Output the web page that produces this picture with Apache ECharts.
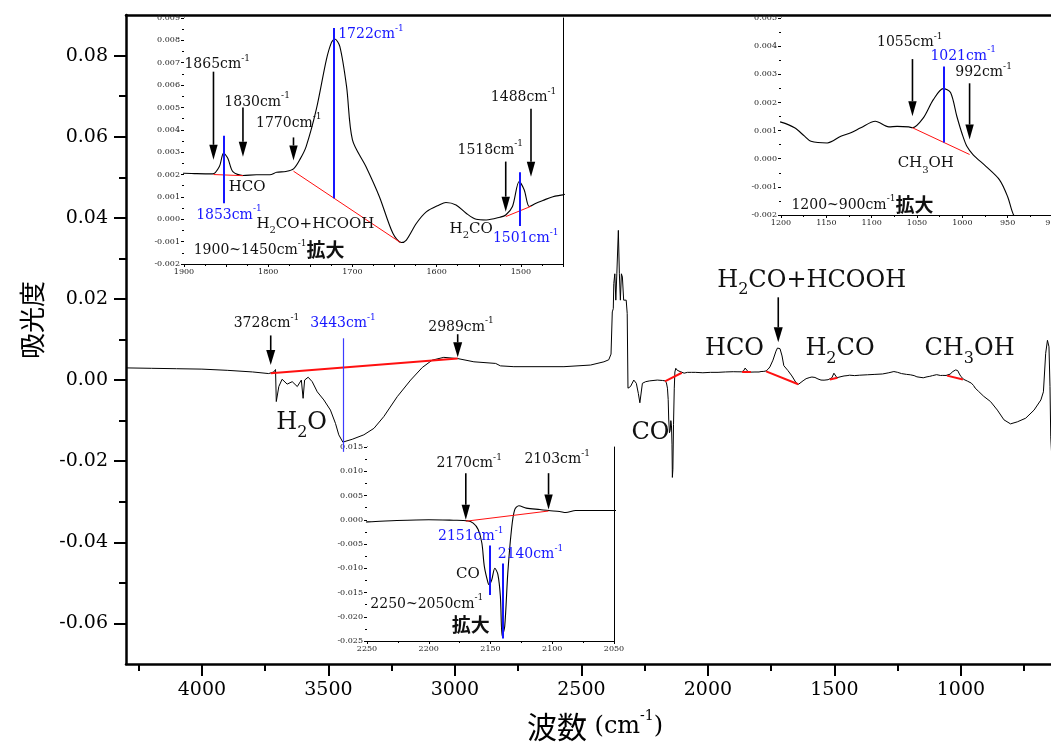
<!DOCTYPE html>
<html>
<head>
<meta charset="utf-8">
<script src="https://cdn.jsdelivr.net/npm/echarts@6/dist/echarts.min.js"></script>
<style>
  html, body { margin: 0; padding: 0; background: #fff; }
  #chart { width: 1051px; height: 745px; }
</style>
</head>
<body>
<div id="chart"></div>
<script>
// ---------------- spectrum (wavenumber cm-1, absorbance) ----------------
const spectrumOH = [
  [4300, 0.0030], [4200, 0.0029], [4100, 0.0028], [4000, 0.0027], [3900, 0.0024],
  [3800, 0.0020], [3736, 0.0016], [3716, 0.0020], [3709, 0.0026], [3706, -0.0053],
  [3696, -0.0016], [3683, 0.0002], [3663, -0.0010], [3643, -0.0004], [3623, -0.0016],
  [3607, 0.0000], [3600, -0.0045], [3594, 0.0000], [3580, 0.0007], [3564, -0.0004],
  [3544, -0.0029], [3518, -0.0049], [3492, -0.0074], [3472, -0.0107], [3459, -0.0135],
  [3443, -0.0153], [3406, -0.0146], [3360, -0.0135], [3320, -0.0119], [3281, -0.0090],
  [3228, -0.0041], [3175, 0.0000], [3129, 0.0031], [3090, 0.0049], [3044, 0.0056],
  [2989, 0.0053], [2925, 0.0045], [2839, 0.0041], [2820, 0.0035], [2767, 0.0033],
  [2569, 0.0033], [2464, 0.0037], [2411, 0.0045]
];
const spectrumCO2 = [
  [2392, 0.0050], [2383, 0.0064], [2378, 0.0168], [2374, 0.0176], [2372, 0.0238],
  [2368, 0.0262], [2364, 0.0197], [2360, 0.0262], [2354, 0.0369], [2350, 0.0262],
  [2346, 0.0197], [2342, 0.0262], [2338, 0.0254], [2333, 0.0197], [2323, 0.0197],
  [2319, 0.0164], [2316, -0.0020], [2306, -0.0016], [2293, 0.0000], [2283, -0.0008],
  [2275, -0.0033], [2269, -0.0056], [2259, -0.0008], [2246, -0.0004]
];
const spectrumCO = [
  [2230, -0.0002], [2200, 0.0000], [2180, -0.0001], [2169, -0.0002], [2164, -0.0007],
  [2160, -0.0020], [2157, -0.0048], [2155, -0.0096], [2152, -0.0130], [2151, -0.0134],
  [2149, -0.0124], [2146.5, -0.0100], [2144, -0.0113], [2142, -0.0158], [2140.5, -0.0240],
  [2138.5, -0.0220], [2136, -0.0110], [2133, -0.0020], [2130.5, 0.0020], [2127, 0.0029],
  [2121, 0.0024], [2110, 0.0021], [2103, 0.0019], [2094, 0.0017], [2089, 0.0015],
  [2081, 0.0019], [2065, 0.0019], [2050, 0.0019]
];
const spectrumCarbonyl = [
  [2020, 0.0018], [1990, 0.0019], [1960, 0.0019], [1930, 0.0020],
  [1900, 0.00206], [1885, 0.00204], [1866, 0.00203], [1858, 0.00236], [1853, 0.00296],
  [1848, 0.00273], [1842, 0.00213], [1830, 0.00196], [1814, 0.00199], [1798, 0.00199],
  [1790, 0.00210], [1779, 0.00214], [1770, 0.00225], [1762, 0.00270], [1755, 0.00325],
  [1743, 0.00490], [1731, 0.00713], [1725, 0.00790], [1721, 0.00806], [1715, 0.00773],
  [1707, 0.00594], [1700, 0.00355], [1684, 0.00236], [1668, 0.00101], [1652, -0.00063],
  [1642, -0.00104], [1636, -0.00093], [1624, -0.00018], [1612, 0.00034], [1597, 0.00064],
  [1589, 0.00075], [1577, 0.00064], [1565, 0.00027], [1553, 0.00000], [1541, -0.00003],
  [1525, 0.00009], [1518, 0.00019], [1510, 0.00057], [1502, 0.00169], [1496, 0.00131],
  [1490, 0.00057], [1482, 0.00072], [1474, 0.00084], [1462, 0.00101], [1450, 0.00109]
];
const spectrumFingerprint = [
  [1440, 0.0012], [1420, 0.0011], [1400, 0.0012], [1370, 0.0013], [1340, 0.0014],
  [1310, 0.0015], [1285, 0.0018], [1265, 0.0021], [1250, 0.0019], [1235, 0.0016],
  [1215, 0.0014], [1200, 0.0013], [1185, 0.0011], [1174, 0.0008], [1167, 0.00062],
  [1149, 0.00056], [1134, 0.0008], [1123, 0.00092], [1112, 0.0011], [1096, 0.00133],
  [1081, 0.00113], [1072, 0.00115], [1059, 0.00113], [1055, 0.0011], [1043, 0.00145],
  [1032, 0.0021], [1021, 0.00249], [1013, 0.00235], [1006, 0.0015], [1000, 0.00086],
  [995, 0.00044], [988, 0.00014], [974, -0.00027], [959, -0.00075], [950, -0.00135],
  [944, -0.00196], [930, -0.0028], [910, -0.0040], [883, -0.0053], [856, -0.0074],
  [830, -0.0098], [804, -0.0108], [777, -0.0103], [744, -0.0094], [711, -0.0074],
  [684, -0.0049], [674, -0.0029], [665, 0.0066], [658, 0.0098], [652, 0.0082],
  [648, -0.0016], [645, -0.0140], [640, -0.0200]
];
const spectrum = [].concat(spectrumOH, spectrumCO2, spectrumCO, spectrumCarbonyl, spectrumFingerprint);

// ---------------- tick values ----------------
const mainXTicks = [1000, 1500, 2000, 2500, 3000, 3500, 4000];
const mainXMinorTicks = [750, 1250, 1750, 2250, 2750, 3250, 3750, 4250];
const mainYTicks = [-0.06, -0.04, -0.02, 0, 0.02, 0.04, 0.06, 0.08];
const mainYMinorTicks = [-0.05, -0.03, -0.01, 0.01, 0.03, 0.05, 0.07];

// ---------------- band assignments ----------------
// integration baselines: [[start wn, abs], [end wn, abs]]
const baselines = [
  [[3728, 0.0017], [2989, 0.0053]],
  [[2170, -0.0003], [2103, 0.0018]],
  [[1865, 0.0020], [1830, 0.00195]],
  [[1770, 0.00215], [1643, -0.00104]],
  [[1518, 0.00012], [1488, 0.00058]],
  [[1055, 0.0011], [992, 0.00015]]
];
// peak position markers: [wn, top, bottom]
const mainPeakLines = [[3443, 0.0103, -0.0177]];
const carbonylPeakLines = [[1853, 0.00373, 0.00072], [1722, 0.00855, 0.00094], [1501, 0.0021, -0.0003]];
const coPeakLines = [[2151, -0.0053, -0.0155], [2140, -0.0090, -0.0245]];
const methanolPeakLines = [[1021, 0.00328, 0.00058]];
// arrows: [wn, tail, tip]
const mainArrows = [[3728, 0.0110, 0.0037], [2989, 0.0113, 0.0056], [1722, 0.0204, 0.0093]];
const carbonylArrows = [[1865, 0.0066, 0.00266], [1830, 0.0050, 0.0028], [1770, 0.00366, 0.00263],
                        [1518, 0.00258, 0.00034], [1488, 0.00494, 0.0019]];
const coArrows = [[2170, 0.0096, 0.0], [2103, 0.0096, 0.0021]];
const methanolArrows = [[1055, 0.00354, 0.00151], [992, 0.00268, 0.00068]];

// annotation text: [text, wn, abs, size, colour]
const mainLabels = [
  ['3728cm^{-1}', 3745, 0.0139, 'sm', 'k'],
  ['3443cm^{-1}', 3442, 0.0139, 'sm', 'b'],
  ['2989cm^{-1}', 2976, 0.0131, 'sm', 'k'],
  ['H_{2}O', 3606, -0.0106, 'lg', 'k'],
  ['CO', 2227, -0.0130, 'lg', 'k'],
  ['HCO', 1895, 0.0076, 'lg', 'k'],
  ['H_{2}CO+HCOOH', 1590, 0.0246, 'lg', 'k'],
  ['H_{2}CO', 1478, 0.0076, 'lg', 'k'],
  ['CH_{3}OH', 966, 0.0076, 'lg', 'k']
];
const carbonylLabels = [
  ['1865cm^{-1}', 1860.6, 0.00691, 'sm', 'k'],
  ['1830cm^{-1}', 1813.2, 0.00525, 'sm', 'k'],
  ['1770cm^{-1}', 1775.6, 0.0043, 'sm', 'k'],
  ['1722cm^{-1}', 1678, 0.00825, 'sm', 'b'],
  ['HCO', 1825, 0.00146, 'mol', 'k'],
  ['1853cm^{-1}', 1846.7, 0.00019, 'sm', 'b'],
  ['H_{2}CO+HCOOH', 1744, -0.0002, 'mol', 'k'],
  ['1900~1450cm^{-1}#{拡大}', 1798.9, -0.00137, 'sm', 'k'],
  ['1518cm^{-1}', 1536.4, 0.0031, 'sm', 'k'],
  ['1488cm^{-1}', 1496.8, 0.00546, 'sm', 'k'],
  ['H_{2}CO', 1559, -0.00043, 'mol', 'k'],
  ['1501cm^{-1}', 1494.3, -0.00085, 'sm', 'b']
];
const coLabels = [
  ['2170cm^{-1}', 2167.3, 0.01154, 'sm', 'k'],
  ['2103cm^{-1}', 2096, 0.01237, 'sm', 'k'],
  ['2151cm^{-1}', 2166, -0.00344, 'sm', 'b'],
  ['2140cm^{-1}', 2117.7, -0.0072, 'sm', 'b'],
  ['CO', 2168.3, -0.0113, 'mol', 'k'],
  ['2250~2050cm^{-1}', 2201.6, -0.0174, 'sm', 'k'],
  ['#{拡大}', 2166, -0.0216, 'sm', 'k']
];
const methanolLabels = [
  ['1055cm^{-1}', 1058, 0.00413, 'sm', 'k'],
  ['1021cm^{-1}', 999.1, 0.00365, 'sm', 'b'],
  ['992cm^{-1}', 976.6, 0.00306, 'sm', 'k'],
  ['CH_{3}OH', 1040.3, -0.00015, 'mol', 'k'],
  ['1200~900cm^{-1}#{拡大}', 1110.2, -0.00164, 'sm', 'k']
];

// ---------------- styling helpers ----------------
const SERIF = 'DejaVu Serif';
const CJK = 'Noto Sans CJK JP';
const COLORS = { k: '#111111', b: '#1616ff' };
const SIZES = {
  sm:  { t: 14, lh: 21, p: 9,  d: 10, j: 19 },
  mol: { t: 15, lh: 24, p: 10, d: 10, j: 19 },
  lg:  { t: 24, lh: 36, p: 15, d: 16, j: 26 }
};

function buildRich() {
  const rich = {};
  Object.keys(SIZES).forEach(sz => {
    const s = SIZES[sz];
    Object.keys(COLORS).forEach(c => {
      const col = COLORS[c];
      rich['t' + sz + c] = { fontFamily: SERIF, fontSize: s.t, lineHeight: s.lh, color: col };
      rich['p' + sz + c] = { fontFamily: SERIF, fontSize: s.p, lineHeight: s.p + 1, verticalAlign: 'top', color: col };
      rich['d' + sz + c] = { fontFamily: SERIF, fontSize: s.d, lineHeight: s.d, verticalAlign: 'bottom', color: col };
      rich['j' + sz + c] = { fontFamily: CJK, fontSize: s.j, lineHeight: s.lh, fontWeight: 'bold', color: col };
    });
  });
  return rich;
}
const RICH = buildRich();

// "^{..}" superscript, "_{..}" subscript, "#{..}" CJK run
function toRich(src, size, color) {
  const key = size + color;
  return src.split(/(\^\{[^}]*\}|_\{[^}]*\}|#\{[^}]*\})/).filter(Boolean).map(tok => {
    const body = tok.slice(2, -1);
    if (tok.startsWith('^{')) return '{p' + key + '|' + body + '}';
    if (tok.startsWith('_{')) return '{d' + key + '|' + body + '}';
    if (tok.startsWith('#{')) return '{j' + key + '|' + body + '}';
    return '{t' + key + '|' + tok + '}';
  }).join('');
}

function inRange(x, lo, hi) { return x >= lo && x <= hi; }

function markLines(lo, hi, redWidth, peakLines, blueWidth, blueColor) {
  const data = [];
  baselines.forEach(b => {
    if (inRange(b[0][0], lo, hi) && inRange(b[1][0], lo, hi)) {
      data.push([{ coord: b[0], lineStyle: { color: '#ff1010', width: redWidth, type: 'solid' } }, { coord: b[1] }]);
    }
  });
  peakLines.forEach(p => {
    data.push([{ coord: [p[0], p[1]], lineStyle: { color: blueColor, width: blueWidth, type: 'solid' } }, { coord: [p[0], p[2]] }]);
  });
  return { silent: true, symbol: ['none', 'none'], label: { show: false }, emphasis: { disabled: true }, animation: false, data };
}

function markPoints(labels) {
  return {
    silent: true,
    animation: false,
    symbol: 'circle',
    symbolSize: 0.1,
    itemStyle: { color: 'rgba(0,0,0,0)' },
    label: { show: true, position: 'inside', formatter: p => p.name, rich: RICH },
    data: labels.map(l => ({ name: toRich(l[0], l[3], l[4]), coord: [l[1], l[2]] }))
  };
}

function arrowSeries(data, xi, yi, headLen, headHalf) {
  return {
    type: 'custom', xAxisIndex: xi, yAxisIndex: yi, clip: false, silent: true, z: 5,
    encode: { x: 0, y: 1 },
    data: data,
    renderItem: (params, api) => {
      const a = api.coord([api.value(0), api.value(1)]);
      const b = api.coord([api.value(0), api.value(2)]);
      const dir = b[1] > a[1] ? 1 : -1;
      const baseY = b[1] - dir * headLen;
      return {
        type: 'group',
        children: [
          { type: 'line', shape: { x1: a[0], y1: a[1], x2: b[0], y2: baseY }, style: { stroke: '#000', lineWidth: 1.6 } },
          { type: 'polygon', shape: { points: [[b[0], b[1]], [b[0] - headHalf, baseY], [b[0] + headHalf, baseY]] }, style: { fill: '#000' } }
        ]
      };
    }
  };
}

// small framed panel axes (bottom/top x, left/right y)
function panelAxes(grid, xr, yr, xLabel) {
  const tickStyle = { color: '#000', width: 1 };
  const common = { gridIndex: grid, type: 'value', splitLine: { show: false }, axisLine: { show: true, onZero: false, lineStyle: { color: '#000', width: 1 } } };
  const x = Object.assign({}, common, { inverse: true, min: xr[0], max: xr[1], interval: xr[2] });
  const y = Object.assign({}, common, { min: yr[0], max: yr[1], interval: yr[2] });
  const labelStyle = { fontFamily: SERIF, fontSize: 8, color: '#222' };
  const yFmt = v => (Math.abs(v) < 1e-9 ? '0.000' : v.toFixed(3));
  return {
    x: [
      Object.assign({}, x, { position: 'bottom',
        axisTick: { show: true, length: 3, lineStyle: tickStyle },
        minorTick: { show: true, splitNumber: 2, length: 2, lineStyle: tickStyle },
        axisLabel: Object.assign({ margin: 4, formatter: xLabel }, labelStyle) }),
      Object.assign({}, x, { position: 'top',
        axisTick: { show: true, inside: true, length: 3, lineStyle: tickStyle },
        axisLabel: { show: false } })
    ],
    y: [
      Object.assign({}, y, { position: 'left',
        axisTick: { show: true, length: 3, lineStyle: tickStyle },
        minorTick: { show: true, splitNumber: 2, length: 2, lineStyle: tickStyle },
        axisLabel: Object.assign({ margin: 4, formatter: yFmt }, labelStyle) }),
      Object.assign({}, y, { position: 'right',
        axisTick: { show: true, inside: true, length: 3, lineStyle: tickStyle },
        axisLabel: { show: false } })
    ]
  };
}

const panelCarbonyl = panelAxes(1, [1450, 1900, 50], [-0.002, 0.009, 0.001],
  v => (Math.round(v) % 100 === 0 ? String(Math.round(v)) : ''));
const panelCO = panelAxes(2, [2050, 2250, 50], [-0.025, 0.015, 0.005], v => String(Math.round(v)));
const panelMethanol = panelAxes(3, [900, 1200, 50], [-0.002, 0.005, 0.001], v => String(Math.round(v)));

// ---------------- chart ----------------
const chart = echarts.init(document.getElementById('chart'), null, { renderer: 'canvas' });

const mainAxisLine = { show: true, onZero: false, lineStyle: { color: '#000', width: 2.5 } };
const tickLabelFont = { fontFamily: SERIF, fontSize: 19, color: '#000' };
const panelGrid = { show: true, backgroundColor: '#fff', borderWidth: 0, z: 3, outerBoundsMode: 'none', containLabel: false };

const option = {
  animation: false,
  backgroundColor: '#fff',
  grid: [
    { left: 126, top: 15, right: 0, bottom: 81, outerBoundsMode: 'none', containLabel: false },
    Object.assign({ left: 184, top: 18, width: 379, height: 246 }, panelGrid),
    Object.assign({ left: 367, top: 447, width: 247, height: 194 }, panelGrid),
    Object.assign({ left: 781, top: 18, width: 272, height: 197 }, panelGrid)
  ],
  xAxis: [
    { gridIndex: 0, type: 'value', inverse: true, min: 644, max: 4300, position: 'bottom',
      axisLine: mainAxisLine, splitLine: { show: false },
      axisTick: { show: true, length: 12, customValues: mainXTicks, lineStyle: { color: '#000', width: 2 } },
      axisLabel: Object.assign({ customValues: mainXTicks, margin: 17, formatter: v => String(v) }, tickLabelFont) },
    { gridIndex: 0, type: 'value', inverse: true, min: 644, max: 4300, position: 'bottom',
      axisLine: { show: false, onZero: false }, splitLine: { show: false },
      axisTick: { show: true, length: 7, customValues: mainXMinorTicks, lineStyle: { color: '#000', width: 2 } },
      axisLabel: { show: false } },
    { gridIndex: 0, type: 'value', inverse: true, min: 644, max: 4300, position: 'top',
      axisLine: mainAxisLine, splitLine: { show: false }, axisTick: { show: false }, axisLabel: { show: false } }
  ].concat(panelCarbonyl.x, panelCO.x, panelMethanol.x),
  yAxis: [
    { gridIndex: 0, type: 'value', min: -0.07, max: 0.09, position: 'left',
      axisLine: mainAxisLine, splitLine: { show: false },
      axisTick: { show: true, length: 12, customValues: mainYTicks, lineStyle: { color: '#000', width: 2 } },
      axisLabel: Object.assign({ customValues: mainYTicks, margin: 18,
        formatter: v => (Math.abs(v) < 1e-9 ? '0.00' : v.toFixed(2)) }, tickLabelFont) },
    { gridIndex: 0, type: 'value', min: -0.07, max: 0.09, position: 'left',
      axisLine: { show: false, onZero: false }, splitLine: { show: false },
      axisTick: { show: true, length: 7, customValues: mainYMinorTicks, lineStyle: { color: '#000', width: 2 } },
      axisLabel: { show: false } }
  ].concat(panelCarbonyl.y, panelCO.y, panelMethanol.y),
  series: [
    { type: 'line', name: 'spectrum', xAxisIndex: 0, yAxisIndex: 0, data: spectrum, symbol: 'none',
      lineStyle: { color: '#000', width: 1 }, z: 2, silent: true,
      markLine: markLines(644, 4300, 2, mainPeakLines, 1.2, '#3c3cff'),
      markPoint: markPoints(mainLabels) },
    arrowSeries(mainArrows, 0, 0, 15, 4.5),

    { type: 'line', name: 'carbonyl', xAxisIndex: 3, yAxisIndex: 2, data: spectrum, symbol: 'none', smooth: 0.3,
      lineStyle: { color: '#000', width: 1.1 }, z: 4, silent: true,
      markLine: markLines(1450, 1900, 1, carbonylPeakLines, 2, '#1616ff'),
      markPoint: markPoints(carbonylLabels) },
    arrowSeries(carbonylArrows, 3, 2, 15, 4.2),

    { type: 'line', name: 'co', xAxisIndex: 5, yAxisIndex: 4, data: spectrum, symbol: 'none', smooth: 0.3,
      lineStyle: { color: '#000', width: 1.1 }, z: 4, silent: true,
      markLine: markLines(2050, 2250, 1, coPeakLines, 2, '#1616ff'),
      markPoint: markPoints(coLabels) },
    arrowSeries(coArrows, 5, 4, 15, 4.2),

    { type: 'line', name: 'methanol', xAxisIndex: 7, yAxisIndex: 6, data: spectrum, symbol: 'none', smooth: 0.3,
      lineStyle: { color: '#000', width: 1.1 }, z: 4, silent: true,
      markLine: markLines(900, 1200, 1, methanolPeakLines, 2, '#1616ff'),
      markPoint: markPoints(methanolLabels) },
    arrowSeries(methanolArrows, 7, 6, 15, 4.2)
  ],
  graphic: [
    { type: 'text', x: 32, y: 320, rotation: Math.PI / 2,
      style: { text: '吸光度', fontFamily: CJK, fontSize: 26, fill: '#000', align: 'center', verticalAlign: 'middle' } },
    { type: 'text', x: 595, y: 727,
      style: {
        text: '{c|波数}{n| (cm}{s|-1}{n|)}',
        align: 'center', verticalAlign: 'middle',
        rich: {
          c: { fontFamily: CJK, fontSize: 30, lineHeight: 36, fill: '#000' },
          n: { fontFamily: SERIF, fontSize: 24, lineHeight: 36, fill: '#000' },
          s: { fontFamily: SERIF, fontSize: 14, lineHeight: 16, verticalAlign: 'top', fill: '#000' }
        }
      } }
  ]
};

chart.setOption(option);
</script>
</body>
</html>
